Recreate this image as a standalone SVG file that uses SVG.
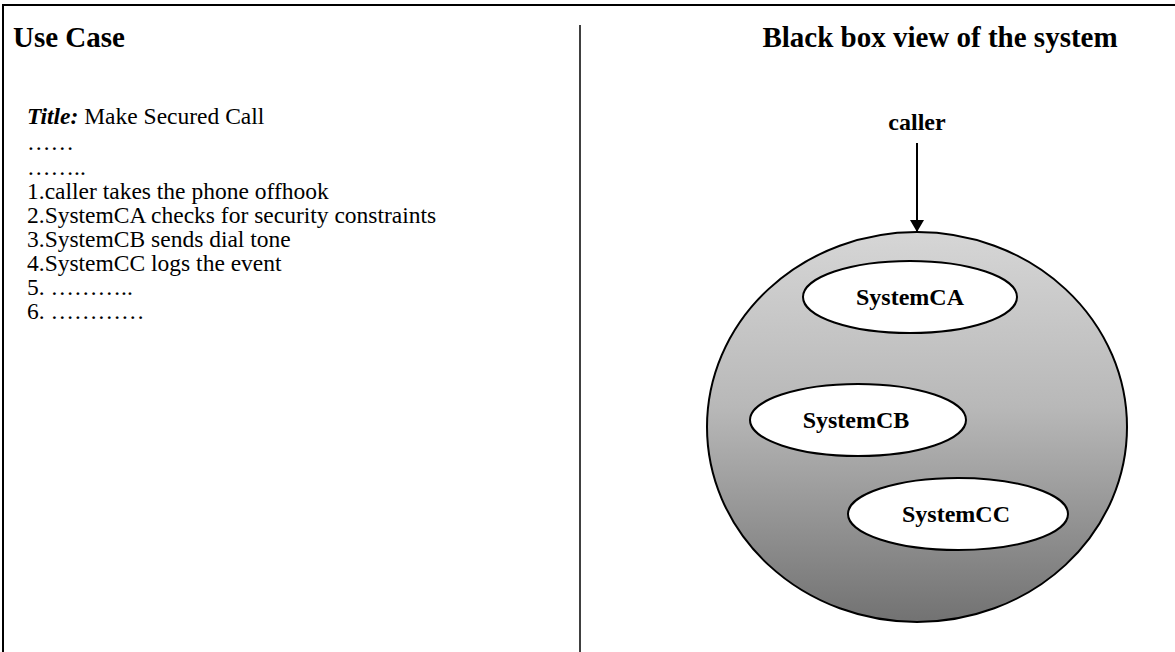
<svg xmlns="http://www.w3.org/2000/svg" width="1175" height="652" viewBox="0 0 1175 652">
  <style>
    .frame { stroke: #000; stroke-width: 2; fill: none; }
    .heading { font-family: "Liberation Serif", "Times New Roman", serif; font-weight: bold; font-size: 29px; fill: #000; }
    .body { font-family: "Liberation Serif", "Times New Roman", serif; font-size: 23.5px; fill: #000; }
    .label { font-family: "Liberation Serif", "Times New Roman", serif; font-weight: bold; font-size: 24px; fill: #000; text-anchor: middle; }
    .sub { fill: #fff; stroke: #000; stroke-width: 2; }
    .edge { stroke: #000; stroke-width: 2; fill: none; }
  </style>
  <defs>
    <linearGradient id="shade" x1="0" y1="0" x2="0" y2="1">
      <stop offset="0" stop-color="#d6d6d6"/>
      <stop offset="0.45" stop-color="#b8b8b8"/>
      <stop offset="1" stop-color="#727272"/>
    </linearGradient>
    <marker id="arrow" viewBox="0 0 12 14" refX="12" refY="7" markerWidth="12" markerHeight="14" markerUnits="userSpaceOnUse" orient="auto">
      <path d="M0,0 L12,7 L0,14 Z" fill="#000"/>
    </marker>
  </defs>

  <rect width="1175" height="652" fill="#fff"/>

  <!-- page frame and column divider -->
  <g id="frame">
    <path class="frame" d="M3,652 V5 H1175"/>
    <line x1="580" y1="25" x2="580" y2="652" stroke="#000" stroke-width="1.5"/>
  </g>

  <!-- left column: use case text -->
  <g id="use-case">
    <text class="heading" x="13" y="47">Use Case</text>
    <text class="body" x="27" y="124"><tspan font-weight="bold" font-style="italic">Title:</tspan> Make Secured Call</text>
    <text class="body" x="27" y="150">……</text>
    <text class="body" x="27" y="175">……..</text>
    <text class="body" x="27" y="199">1.caller takes the phone offhook</text>
    <text class="body" x="27" y="223">2.SystemCA checks for security constraints</text>
    <text class="body" x="27" y="247">3.SystemCB sends dial tone</text>
    <text class="body" x="27" y="271">4.SystemCC logs the event</text>
    <text class="body" x="27" y="295">5. ………..</text>
    <text class="body" x="27" y="319">6. …………</text>
  </g>

  <!-- right column: black box view -->
  <text class="heading" x="940" y="47" text-anchor="middle">Black box view of the system</text>

  <g id="caller">
    <text class="label" x="917" y="130" font-size="25">caller</text>
  </g>

  <g id="system">
    <ellipse cx="917" cy="427" rx="210" ry="195" fill="url(#shade)" stroke="#000" stroke-width="2"/>
  </g>

  <g id="systemCA">
    <ellipse class="sub" cx="910" cy="297" rx="107" ry="36"/>
    <text class="label" x="910" y="305">SystemCA</text>
  </g>

  <g id="systemCB">
    <ellipse class="sub" cx="858" cy="420" rx="108" ry="36"/>
    <text class="label" x="856" y="428">SystemCB</text>
  </g>

  <g id="systemCC">
    <ellipse class="sub" cx="958" cy="514" rx="110" ry="36"/>
    <text class="label" x="956" y="522">SystemCC</text>
  </g>

  <g id="connectors">
    <line class="edge" x1="917" y1="143" x2="917" y2="232" marker-end="url(#arrow)"/>
  </g>
</svg>
